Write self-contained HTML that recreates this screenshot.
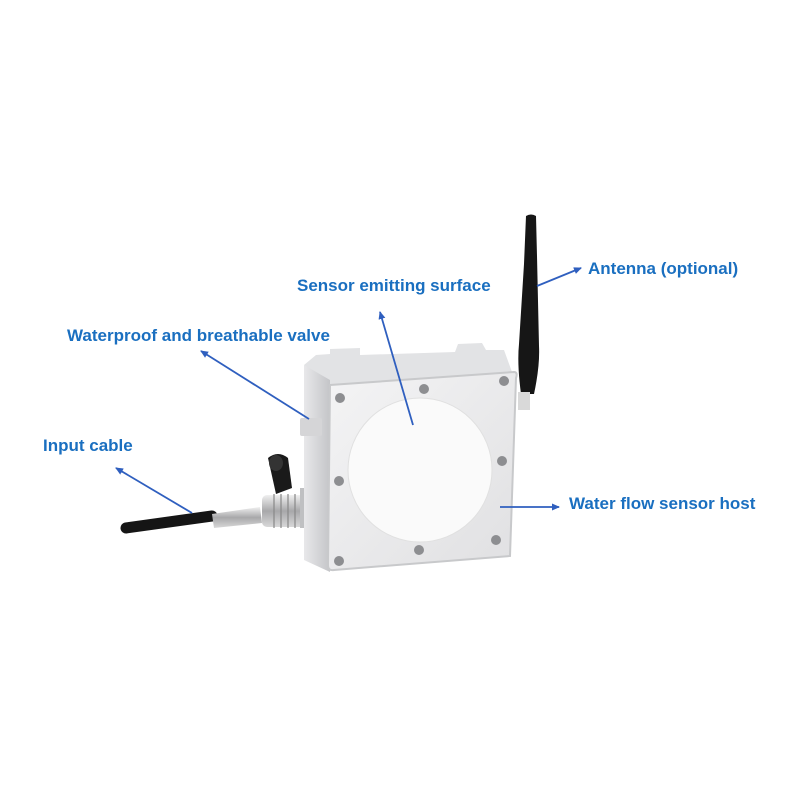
<!DOCTYPE html>
<html><head><style>
body{margin:0;width:800px;height:800px;background:#fff;overflow:hidden}
</style></head><body>
<svg width="800" height="800" viewBox="0 0 800 800" xmlns="http://www.w3.org/2000/svg">
<defs>
<linearGradient id="side" x1="0" x2="1"><stop offset="0" stop-color="#e8e8ea"/><stop offset="1" stop-color="#c4c5c8"/></linearGradient>
<linearGradient id="face" x1="0" y1="0" x2="1" y2="1"><stop offset="0" stop-color="#f4f4f5"/><stop offset="1" stop-color="#e0e0e2"/></linearGradient>
<linearGradient id="metal" x1="0" y1="0" x2="0" y2="1"><stop offset="0" stop-color="#f0f0f0"/><stop offset="0.5" stop-color="#a8a8aa"/><stop offset="1" stop-color="#d8d8d8"/></linearGradient>
<marker id="ah" markerWidth="8" markerHeight="8" refX="7" refY="4" orient="auto" markerUnits="userSpaceOnUse"><path d="M0,0.5 L8,4 L0,7.5 z" fill="#2f5fbf"/></marker>
</defs>
<!-- cable -->
<path d="M126,528 L212,516" stroke="#151515" stroke-width="11" stroke-linecap="round"/>
<path d="M212,514 L260,507 L262,523 L214,528 z" fill="url(#metal)"/>
<rect x="262" y="495" width="46" height="32" rx="5" fill="url(#metal)"/>
<g stroke="#888" stroke-width="1.2"><line x1="274" y1="494" x2="274" y2="528"/><line x1="281" y1="494" x2="281" y2="528"/><line x1="288" y1="494" x2="288" y2="528"/><line x1="295" y1="494" x2="295" y2="528"/></g>
<rect x="300" y="488" width="10" height="40" fill="#bfc0c2"/>
<path d="M268,458 q10,-8 20,0 l4,30 l-16,6 z" fill="#1a1a1a"/>
<ellipse cx="276" cy="463" rx="7" ry="8" fill="#333"/>
<!-- antenna -->
<path d="M526,216 q5,-3 10,0 l1,40 l2,90 q1,20 -5,48 l-13,0 q-4,-30 -2,-50 l5,-80 z" fill="#161616"/>
<rect x="518" y="392" width="12" height="18" fill="#d9d9d9"/>
<!-- box top ledge -->
<path d="M304,365 L316,355 L330,354 L330,349 L360,348 L360,355 L455,352 L458,344 L482,343 L486,350 L504,350 L512,372 L330,385 z" fill="#e2e3e5"/>
<!-- side -->
<path d="M304,365 L330,380 L330,572 L304,560 z" fill="url(#side)"/>
<rect x="300" y="418" width="22" height="18" rx="2" fill="#d5d5d7"/>
<!-- front face -->
<path d="M330,385 L514,372 Q518,372 516,378 L510,556 L334,570 Q328,571 328,565 z" fill="url(#face)" stroke="#c8c9cb" stroke-width="2"/>
<circle cx="420" cy="470" r="72" fill="#fafafa" stroke="#e0e0e0"/>
<g fill="#8d8e91">
<circle cx="340" cy="398" r="5"/><circle cx="424" cy="389" r="5"/><circle cx="504" cy="381" r="5"/>
<circle cx="339" cy="481" r="5"/><circle cx="502" cy="461" r="5"/>
<circle cx="339" cy="561" r="5"/><circle cx="419" cy="550" r="5"/><circle cx="496" cy="540" r="5"/>
</g>
<!-- arrows -->
<g stroke="#2f5fbf" stroke-width="1.8" fill="none" marker-end="url(#ah)">
<line x1="537" y1="286" x2="581" y2="268"/>
<line x1="413" y1="425" x2="380" y2="312"/>
<line x1="309" y1="419" x2="201" y2="351"/>
<line x1="192" y1="513" x2="116" y2="468"/>
<line x1="500" y1="507" x2="559" y2="507"/>
</g>
<g font-family="Liberation Sans, sans-serif" font-weight="bold" font-size="17" fill="#1a6fc0">
<text x="297" y="291">Sensor emitting surface</text>
<text x="588" y="274">Antenna (optional)</text>
<text x="67" y="341">Waterproof and breathable valve</text>
<text x="43" y="451">Input cable</text>
<text x="569" y="509">Water flow sensor host</text>
</g>
</svg>
</body></html>
